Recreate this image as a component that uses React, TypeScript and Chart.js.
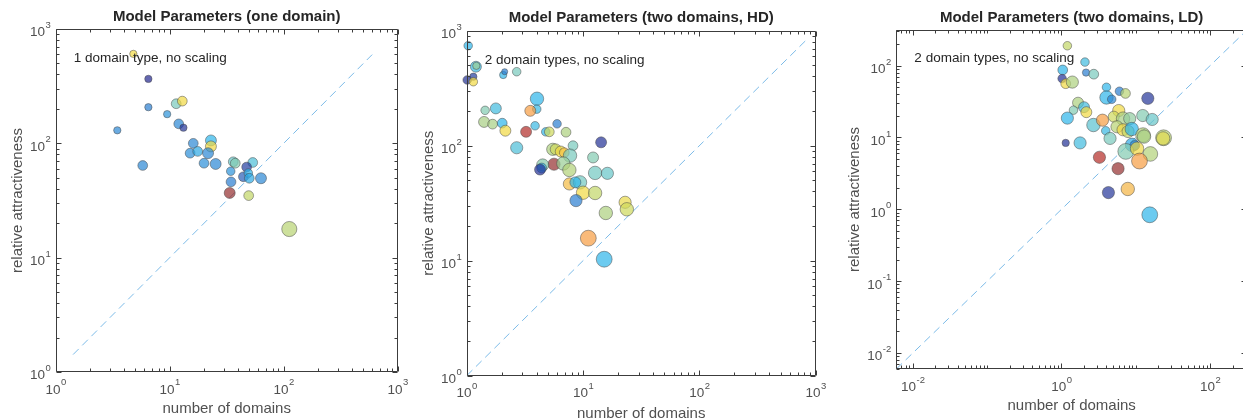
import React, { useEffect, useRef } from 'react';
import { Chart, registerables } from 'chart.js';

Chart.register(...registerables);

// ---------------- data: panel 1 (one domain) ----------------
const p1Domains = [4.8, 6.5, 6.5, 11.4, 12.9, 9.5, 3.47, 12.0, 13.2, 5.8, 16.1, 15.1, 17.6, 23.0, 23.0, 21.7, 20.0, 25.3, 36.1, 37.6, 53.5, 34.3, 47.3, 44.3, 48.9, 49.9, 63.2, 34.5, 33.6, 49.3, 112];
const p1Attract = [606, 366, 207, 222, 234, 180, 130, 148, 137, 64, 100, 82, 85, 106, 94, 82, 67, 66, 69, 67, 68, 57, 62, 51, 55, 49.5, 49.5, 46, 36.8, 34.9, 17.8];
const p1Size = [3, 3, 3, 4, 4, 3, 3, 4, 3, 4, 4, 4, 4, 4.5, 4.5, 4.5, 4, 4.5, 4, 4, 4, 3.5, 4, 4, 3.5, 4, 4.5, 4, 4.5, 4, 6.2];
const p1Value = [0.7, 0.0, 0.2, 0.45, 0.7, 0.25, 0.22, 0.22, 0.03, 0.22, 0.22, 0.24, 0.3, 0.33, 0.7, 0.22, 0.24, 0.22, 0.42, 0.47, 0.38, 0.25, 0.05, 0.12, 0.32, 0.3, 0.22, 0.2, 1.0, 0.6, 0.58];
const p1XTicks = [1, 10, 100, 1000];
const p1YTicks = [1, 10, 100, 1000];

// ---------------- data: panel 2 (two domains, HD) ----------------
const p2Domains = [1.03, 1.2, 1.21, 1.01, 1.14, 1.14, 2.06, 2.12, 2.69, 4.02, 4.0, 3.52, 1.44, 1.78, 1.41, 1.67, 2.02, 2.15, 3.24, 2.69, 3.87, 5.98, 4.78, 5.13, 7.14, 14.3, 8.2, 5.49, 5.82, 6.43, 6.9, 7.73, 12.2, 5.63, 6.77, 4.5, 4.41, 4.27, 7.63, 12.7, 16.2, 7.63, 9.42, 8.59, 10.0, 12.7, 8.7, 23.0, 23.8, 15.7, 11.1, 15.2];
const p2Attract = [741, 486, 495, 373, 398, 360, 412, 440, 440, 256, 208, 201, 203, 211, 161, 154, 157, 135, 132, 96, 149, 155, 132, 132, 131, 107, 100, 93, 93, 89, 87, 82, 79, 69, 70, 68, 64, 62, 61.5, 58, 57.5, 46.5, 48, 48, 39, 38.8, 33.3, 32.2, 28, 26, 15.7, 10.3];
const p2Size = [3.5, 4.5, 3, 3.5, 3, 3.5, 3, 2.5, 3.5, 5.5, 3.5, 4.5, 3.5, 4.5, 4.5, 4, 4, 4.5, 4.5, 5, 3.5, 3.5, 3.5, 4, 4, 4.5, 4, 5, 4.5, 4.5, 4, 5.5, 4.5, 5, 5.5, 5, 4, 4.5, 5.5, 5.5, 5, 5, 5.5, 4.5, 5.5, 5.5, 5, 5, 5.5, 5.5, 6.5, 6.5];
const p2Value = [0.33, 0.35, 0.52, 0.02, 0.05, 0.7, 0.33, 0.2, 0.45, 0.33, 0.35, 0.8, 0.47, 0.36, 0.55, 0.55, 0.33, 0.7, 0.93, 0.38, 0.35, 0.2, 0.33, 0.62, 0.56, 0.02, 0.45, 0.56, 0.62, 0.7, 0.74, 0.45, 0.47, 1.0, 0.52, 0.48, 0.33, 0.02, 0.57, 0.44, 0.42, 0.75, 0.44, 0.33, 0.7, 0.6, 0.2, 0.68, 0.62, 0.56, 0.8, 0.33];
const p2XTicks = [1, 10, 100, 1000];
const p2YTicks = [1, 10, 100, 1000];

// ---------------- data: panel 3 (two domains, LD) ----------------
const p3Domains = [1.2, 2.07, 1.04, 2.14, 2.72, 1.02, 1.14, 1.4, 4.03, 4.03, 4.74, 6.02, 7.26, 14.5, 1.67, 1.45, 2.01, 2.16, 1.2, 2.69, 3.56, 3.94, 4.5, 5.89, 5.05, 6.73, 8.28, 12.4, 16.6, 5.58, 6.73, 7.87, 8.82, 12.5, 12.9, 23.6, 23.3, 1.14, 1.78, 8.9, 9.7, 7.33, 10.4, 15.7, 11.2, 3.24, 5.77, 4.28, 7.8, 15.4];
const p3Attract = [189, 112, 87, 80, 76, 66, 56, 59, 50, 36, 34, 44, 41, 35, 30.5, 24, 26.4, 22.5, 18.6, 14.9, 17.4, 12.4, 9.7, 23.7, 19.5, 18.3, 18.3, 20.2, 17.8, 14.1, 12.8, 12.1, 13.1, 10.8, 10.3, 9.9, 9.7, 8.4, 8.4, 7.9, 7.75, 6.4, 7.0, 5.9, 4.7, 5.3, 3.68, 1.71, 1.92, 0.84];
const p3Size = [3.5, 3.5, 4, 3, 4, 3.5, 4, 5, 3.5, 5.5, 3.5, 3.5, 4, 5, 4.5, 3.5, 4.5, 4.5, 5, 5.5, 5, 3.5, 5, 5, 4.5, 5.5, 5, 5, 5, 5, 5, 5, 5.5, 6, 5.5, 6.5, 5.5, 3, 5, 5.5, 4, 6.5, 5.5, 6, 6.5, 5, 5, 5, 5.5, 6.5];
const p3Value = [0.6, 0.36, 0.33, 0.2, 0.45, 0.02, 0.7, 0.56, 0.33, 0.33, 0.22, 0.2, 0.58, 0.03, 0.56, 0.47, 0.36, 0.7, 0.33, 0.4, 0.8, 0.35, 0.45, 0.7, 0.62, 0.55, 0.5, 0.47, 0.42, 0.58, 0.7, 0.6, 0.33, 0.57, 0.55, 0.58, 0.66, 0.02, 0.36, 0.3, 0.22, 0.47, 0.7, 0.57, 0.8, 0.92, 1.0, 0.03, 0.76, 0.33];
const p3XTicks = [0.01, 1, 100];
const p3YTicks = [0.01, 0.1, 1, 10, 100];

// ---------------- colormap ----------------
const STOPS: [number, string][] = [
  [0, '#6468B0'], [0.2, '#6AA5DE'], [0.33, '#6CCBF0'], [0.45, '#A0D9D0'], [0.55, '#C2DDA8'],
  [0.62, '#DCE48C'], [0.7, '#F5E47A'], [0.8, '#F9BA7A'], [0.9, '#D06A65'], [1, '#B46C6C'],
];
const FILL_ALPHA = 0.7;
const SIZE_SCALE = 1.22;

function hexToRgb(h: string) {
  const n = parseInt(h.slice(1), 16);
  return [(n >> 16) & 255, (n >> 8) & 255, n & 255];
}
function colorFor(c: number) {
  let i = 0;
  while (i < STOPS.length - 2 && c > STOPS[i + 1][0]) i++;
  const [c0, h0] = STOPS[i];
  const [c1, h1] = STOPS[i + 1];
  const t = Math.max(0, Math.min(1, (c - c0) / (c1 - c0)));
  const a = hexToRgb(h0), b = hexToRgb(h1);
  const rgb = a.map((v, k) => v + (b[k] - v) * t).map((v) => Math.max(0, Math.min(255, Math.round((v - 255 * (1 - FILL_ALPHA)) / FILL_ALPHA))));
  return `rgba(${rgb[0]},${rgb[1]},${rgb[2]},${FILL_ALPHA})`;
}

const FONT = "'Liberation Sans', Arial, Helvetica, sans-serif";
const TEXT_GRAY = '#505050';

const framePlugin = {
  id: 'frame',
  afterDraw(chart: any, _args: any, opts: any) {
    const { ctx, chartArea: a, scales } = chart;
    ctx.save();
    ctx.strokeStyle = '#3c3c3c';
    ctx.lineWidth = 1;
    const L = Math.round(a.left) + 0.5, R = Math.round(a.right) - 0.5;
    const T = Math.round(a.top) + 0.5, B = Math.round(a.bottom) - 0.5;
    ctx.beginPath();
    ctx.moveTo(L, T); ctx.lineTo(R, T); ctx.lineTo(R, B); ctx.lineTo(L, B); ctx.closePath();
    ctx.stroke();
    const doAxis = (scale: any, horiz: boolean) => {
      const majors = scale.ticks.map((t: any) => Math.round(Math.log10(t.value)));
      const lo = Math.floor(Math.log10(scale.min)), hi = Math.ceil(Math.log10(scale.max));
      ctx.beginPath();
      for (let e = lo; e <= hi; e++) {
        for (let m = 1; m <= 9; m++) {
          const v = m * Math.pow(10, e);
          if (v < scale.min * 0.999 || v > scale.max * 1.001) continue;
          const major = m === 1 && majors.includes(e);
          const len = major ? 5 : 3;
          const p = Math.round(scale.getPixelForValue(v)) + 0.5;
          if (horiz) {
            ctx.moveTo(p, B); ctx.lineTo(p, B - len);
            ctx.moveTo(p, T); ctx.lineTo(p, T + len);
          } else {
            ctx.moveTo(L, p); ctx.lineTo(L + len, p);
            ctx.moveTo(R, p); ctx.lineTo(R - len, p);
          }
        }
      }
      ctx.stroke();
    };
    doAxis(scales.x, true);
    doAxis(scales.y, false);

    // decade tick labels (base 10 with raised exponent), placed via the scales
    ctx.fillStyle = TEXT_GRAY;
    ctx.textBaseline = 'middle';
    ctx.textAlign = 'left';
    const baseFont = `13.5px ${FONT}`, expFont = `9.5px ${FONT}`;
    const drawLabel = (v: number, px: number, py: number, anchor: string) => {
      const e = String(Math.round(Math.log10(v)));
      ctx.font = baseFont;
      const wb = ctx.measureText('10').width;
      ctx.font = expFont;
      const we = ctx.measureText(e).width;
      const x0 = anchor === 'center' ? px - (wb + we) / 2 : px - (wb + we);
      ctx.font = baseFont;
      ctx.fillText('10', x0, py);
      ctx.font = expFont;
      ctx.fillText(e, x0 + wb + 0.5, py - 7.2);
    };
    scales.x.ticks.forEach((t: any) => drawLabel(t.value, scales.x.getPixelForValue(t.value), a.bottom + opts.xLabelOffset, 'center'));
    scales.y.ticks.forEach((t: any) => drawLabel(t.value, a.left - 5.5, scales.y.getPixelForValue(t.value) + 3.7, 'right'));
    ctx.restore();
  },
};

const notePlugin = {
  id: 'note',
  afterDatasetsDraw(chart: any, _args: any, opts: any) {
    const { ctx, scales } = chart;
    ctx.save();
    ctx.font = `13.5px ${FONT}`;
    ctx.fillStyle = '#262626';
    ctx.textAlign = 'left';
    ctx.textBaseline = 'middle';
    ctx.fillText(opts.text, scales.x.getPixelForValue(opts.x), scales.y.getPixelForValue(opts.y));
    ctx.restore();
  },
};

type Spec = {
  title: string; note: string; noteX: number; noteY: number;
  xs: number[]; ys: number[]; sizes: number[]; vals: number[];
  xTicks: number[]; yTicks: number[];
  min: number; max: number; diagFrom: number; diagTo: number;
  canvasLeft: number; canvasW: number;
  padRight: number; yW: number; xH: number;
  titleTop: number; titleBottom: number; yTitlePad: number; xTitlePad: number; xLabelOffset: number;
};

const SPECS: Spec[] = [
  {
    title: 'Model Parameters (one domain)', note: '1 domain type, no scaling', noteX: 1.44, noteY: 551,
    xs: p1Domains, ys: p1Attract, sizes: p1Size, vals: p1Value, xTicks: p1XTicks, yTicks: p1YTicks,
    min: 1, max: 1000, diagFrom: 1.42, diagTo: 597,
    canvasLeft: 0, canvasW: 420, padRight: 22.3, yW: 55.7, xH: 46,
    titleTop: 7.5, titleBottom: 3.5, yTitlePad: 8.7, xTitlePad: -0.3, xLabelOffset: 18,
  },
  {
    title: 'Model Parameters (two domains, HD)', note: '2 domain types, no scaling', noteX: 1.43, noteY: 558,
    xs: p2Domains, ys: p2Attract, sizes: p2Size, vals: p2Value, xTicks: p2XTicks, yTicks: p2YTicks,
    min: 1, max: 1000, diagFrom: 1, diagTo: 830,
    canvasLeft: 410, canvasW: 420, padRight: 14.3, yW: 56.7, xH: 42.3,
    titleTop: 9, titleBottom: 3.7, yTitlePad: 10, xTitlePad: -4.4, xLabelOffset: 17.5,
  },
  {
    title: 'Model Parameters (two domains, LD)', note: '2 domain types, no scaling', noteX: 0.0105, noteY: 125,
    xs: p3Domains, ys: p3Attract, sizes: p3Size, vals: p3Value, xTicks: p3XTicks, yTicks: p3YTicks,
    min: 0.006, max: 313, diagFrom: 0.006, diagTo: 313,
    canvasLeft: 830, canvasW: 430, padRight: 13, yW: 66.3, xH: 49,
    titleTop: 9, titleBottom: 3, yTitlePad: 16, xTitlePad: 3, xLabelOffset: 18.5,
  },
];

function buildConfig(s: Spec): any {
  const points = s.xs.map((x, i) => ({ x, y: s.ys[i], r: s.sizes[i] * SIZE_SCALE }));
  const labelFont = { family: FONT, size: 15 };
  return {
    type: 'bubble',
    data: {
      datasets: [
        {
          type: 'bubble',
          data: points,
          backgroundColor: s.vals.map(colorFor),
          borderColor: 'rgba(70,70,70,0.55)',
          borderWidth: 0.9,
          clip: false,
        },
        {
          type: 'line',
          data: [{ x: s.diagFrom, y: s.diagFrom }, { x: s.diagTo, y: s.diagTo }],
          borderColor: '#7cbbe8',
          borderWidth: 1,
          borderDash: [8, 5],
          pointRadius: 0,
          fill: false,
        },
      ],
    },
    options: {
      animation: false,
      responsive: false,
      events: [],
      layout: { padding: { left: 0, right: s.padRight, top: 0, bottom: 0 } },
      plugins: {
        legend: { display: false },
        tooltip: { enabled: false },
        title: {
          display: true, text: s.title, fullSize: false, color: '#262626',
          font: { family: FONT, size: 15, weight: 'bold', lineHeight: 1.2 },
          padding: { top: s.titleTop, bottom: s.titleBottom },
        },
        frame: { xLabelOffset: s.xLabelOffset },
        note: { text: s.note, x: s.noteX, y: s.noteY },
      },
      scales: {
        x: {
          type: 'logarithmic', position: 'bottom', min: s.min, max: s.max, bounds: 'data',
          grid: { display: false }, border: { display: false },
          ticks: { display: false, autoSkip: false },
          title: { display: true, text: 'number of domains', font: labelFont, color: TEXT_GRAY, padding: { top: 0, bottom: s.xTitlePad } },
          afterBuildTicks: (sc: any) => { sc.ticks = s.xTicks.map((v) => ({ value: v })); },
          afterFit: (sc: any) => { sc.height = s.xH; sc.paddingLeft = 0; sc.paddingRight = 0; },
        },
        y: {
          type: 'logarithmic', position: 'left', min: s.min, max: s.max, bounds: 'data',
          grid: { display: false }, border: { display: false },
          ticks: { display: false, autoSkip: false },
          title: { display: true, text: 'relative attractiveness', font: labelFont, color: TEXT_GRAY, padding: { top: s.yTitlePad, bottom: 0 } },
          afterBuildTicks: (sc: any) => { sc.ticks = s.yTicks.map((v) => ({ value: v })); },
          afterFit: (sc: any) => { sc.width = s.yW; sc.paddingTop = 0; sc.paddingBottom = 0; },
        },
      },
    },
    plugins: [framePlugin, notePlugin],
  };
}

function Panel({ spec }: { spec: Spec }) {
  const ref = useRef<HTMLCanvasElement | null>(null);
  useEffect(() => {
    if (!ref.current) return;
    const chart = new Chart(ref.current, buildConfig(spec));
    return () => chart.destroy();
  }, [spec]);
  return (
    <canvas
      ref={ref}
      width={spec.canvasW}
      height={418}
      style={{ position: 'absolute', left: spec.canvasLeft, top: 0, display: 'block' }}
    />
  );
}

export default function App() {
  return (
    <div style={{ position: 'fixed', left: 0, top: 0, width: 1243, height: 418, overflow: 'hidden', background: '#ffffff' }}>
      {SPECS.map((s) => (
        <Panel key={s.title} spec={s} />
      ))}
    </div>
  );
}
